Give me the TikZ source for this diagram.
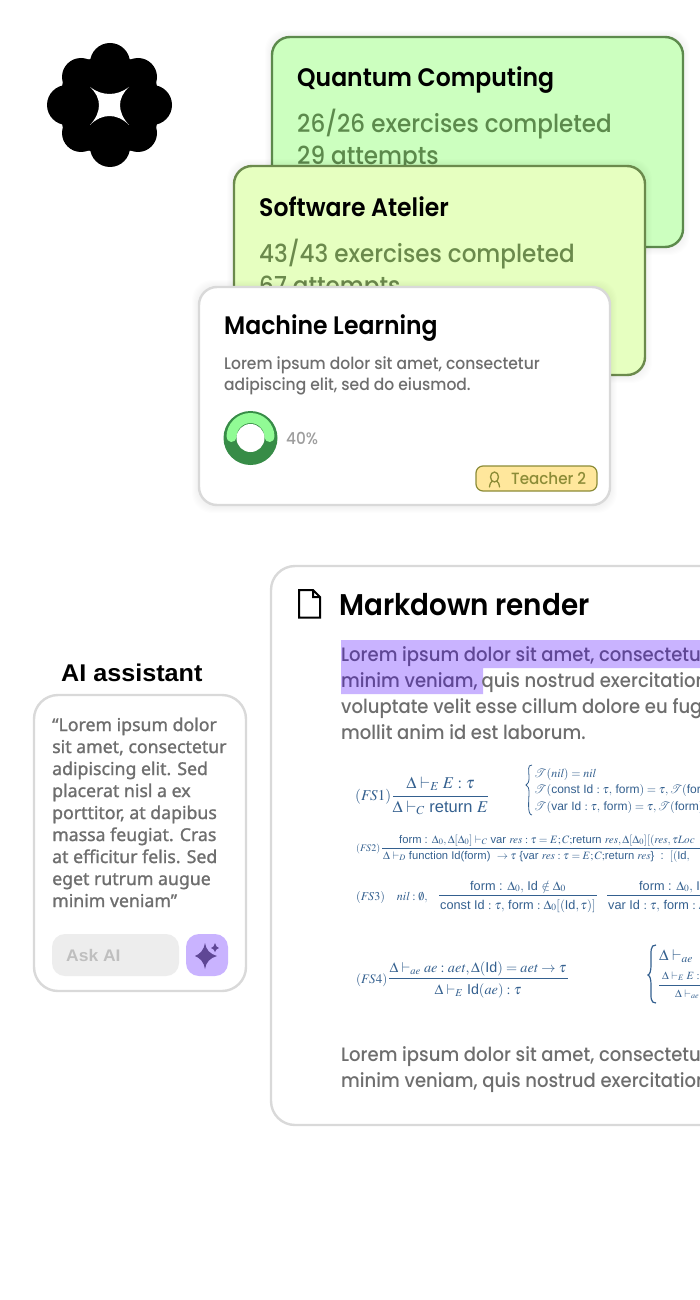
\documentclass[tikz,border=0pt]{standalone}
\usepackage{amsmath}
\usepackage{mathptmx}
\usepackage{fontspec}
\setmainfont{Poppins}
\newfontfamily\psem[FakeStretch=0.93]{Poppins SemiBold}
\newfontfamily\pmed[FakeStretch=0.93]{Poppins Medium}
\newfontfamily\insans[FakeBold=1.2]{Noto Sans}
\newfontfamily\insem[FakeStretch=1.04]{Liberation Sans}
\setsansfont{Liberation Sans}
\definecolor{greenA}{HTML}{CCFFBF}
\definecolor{greenAline}{HTML}{5C8A4C}
\definecolor{greenB}{HTML}{E6FFC0}
\definecolor{greenBline}{HTML}{6B8A4C}
\definecolor{cardline}{HTML}{D9D9D9}
\definecolor{bodygrey}{HTML}{6E6E6E}
\definecolor{purp}{HTML}{C9B3FF}
\definecolor{purpdark}{HTML}{5F4795}
\definecolor{formula}{HTML}{34608F}
\definecolor{ringdark}{HTML}{378C47}
\definecolor{ringlight}{HTML}{91FB95}
\definecolor{tagfill}{HTML}{FFE79C}
\definecolor{tagline}{HTML}{8C8C37}
\newcommand{\softhalo}[4]{%
 \foreach \e in {1,2,...,7}{\fill[black,opacity=.007,rounded corners=20pt] ({#1-\e},{#2-\e}) rectangle ({#3+\e},{#4+\e+1});}}
\tikzset{
 card/.style={draw=#1,line width=2.4pt,rounded corners=18pt,outer sep=0pt,inner sep=0pt,anchor=north west},
 title/.style={anchor=base west,inner sep=0pt,font=\psem\fontsize{25.3}{25.3}\selectfont,text=black},
 stat/.style={anchor=base west,inner sep=0pt,font=\pmed\fontsize{24.8}{24.8}\selectfont},
 body/.style={anchor=base west,inner sep=0pt,font=\pmed\fontsize{19.4}{19.4}\selectfont,text=bodygrey},
 small/.style={anchor=base west,inner sep=0pt,font=\pmed\fontsize{16.7}{16.7}\selectfont,text=bodygrey},
 aibody/.style={anchor=base west,inner sep=0pt,font=\insans\fontsize{17.7}{17.7}\selectfont,text=bodygrey},
 fm/.style={anchor=base west,inner sep=0pt,text=formula,font=\sffamily\fontsize{#1}{#1}\selectfont},
 fmc/.style={anchor=base,inner sep=0pt,text=formula,font=\sffamily\fontsize{#1}{#1}\selectfont},
}
\begin{document}
\begin{tikzpicture}[x=1pt,y=-1pt]
\useasboundingbox (0,0) rectangle (700,1300);
\clip (0,0) rectangle (700,1300);
% logo
\foreach \x/\y/\r in {110/63/20,110/147/20,67/105/20,152/105/20,81/77/19,138/77/19,81/133/19,138/133/19,92/78/19,127/78/19,92/132/19,127/132/19,81/88/19,138/88/19,81/122/19,138/122/19}{\fill[black] (\x,\y) circle (\r);}
\fill[black] (72,72) rectangle (147,138);
\fill[white] (90,87) .. controls (102,96.3) and (117,96.3) .. (129,87) .. controls (117,98) and (117,112) .. (129,125) .. controls (117,113) and (102,113) .. (90,125) .. controls (102,112) and (102,98) .. (90,87) -- cycle;
% Quantum card
\softhalo{272}{37}{683}{247}
\node[card=greenAline,fill=greenA,minimum width=411pt,minimum height=210pt] (cardA) at (272,37) {};
\node[title] (ta) at (297,87) {Quantum Computing};
\node[stat,text=greenAline] (sa1) at (297,133) {26/26 exercises completed};
\node[stat,text=greenAline] (sa2) at (297,165) {29 attempts};
% Software card
\softhalo{234}{166}{645}{375}
\node[card=greenBline,fill=greenB,minimum width=411pt,minimum height=209pt] (cardB) at (234,166) {};
\node[title] (tb) at (259,216) {Software Atelier};
\node[stat,text=greenBline] (sb1) at (259,262) {43/43 exercises completed};
\node[stat,text=greenBline] (sb2) at (259,294) {67 attempts};
% ML card
\softhalo{199}{287}{610}{505}
\node[card=cardline,fill=white,minimum width=411pt,minimum height=218pt] (cardC) at (199,287) {};
\node[title] (tc) at (224,334) {Machine Learning};
\node[small] (bc1) at (224,369) {Lorem ipsum dolor sit amet, consectetur};
\node[small] (bc2) at (224,390) {adipiscing elit, sed do eiusmod.};
\fill[ringdark] (250.5,438) circle (27);
\draw[ringlight,line width=10pt,line cap=round] (231.5,437) arc (180:360:19);
\fill[white] (250.5,438) circle (14);
\node[anchor=base west,inner sep=0pt,font=\pmed\fontsize{16.5}{16.5}\selectfont,text=black!38] (pct) at (286,444) {40\%};
\node[draw=tagline,fill=tagfill,line width=1.2pt,rounded corners=7pt,minimum width=121pt,minimum height=25pt,anchor=north west,inner sep=0pt,outer sep=0pt] (tag) at (476,466) {};
\draw[tagline,line width=1.3pt,line cap=round] (494.5,477) ellipse (4 and 5) (489.5,487) .. controls (490,483) and (491,482) .. (492,481.5) (499.5,487) .. controls (499,483) and (498,482) .. (497,481.5);
\node[anchor=base west,inner sep=0pt,font=\pmed\fontsize{16.3}{16.3}\selectfont,text=tagline] (tagt) at (511,484) {Teacher 2};
% AI assistant
\node[anchor=base west,inner sep=0pt,font=\insem\bfseries\fontsize{24.2}{24.2}\selectfont] (ait) at (61,681) {AI assistant};
\node[card=cardline,fill=white,minimum width=212pt,minimum height=296pt,rounded corners=24pt] (aicard) at (34,695) {};
\node[aibody] (l1) at (52,731) {“Lorem ipsum dolor};
\node[aibody] (l2) at (52,753) {sit amet, consectetur};
\node[aibody] (l3) at (52,775) {adipiscing elit. Sed};
\node[aibody] (l4) at (52,797) {placerat nisl a ex};
\node[aibody] (l5) at (52,819) {porttitor, at dapibus};
\node[aibody] (l6) at (52,841) {massa feugiat. Cras};
\node[aibody] (l7) at (52,863) {at efficitur felis. Sed};
\node[aibody] (l8) at (52,885) {eget rutrum augue};
\node[aibody] (l9) at (52,907) {minim veniam”};
\node[fill=black!7,rounded corners=13pt,minimum width=127pt,minimum height=42pt,anchor=north west,inner sep=0pt,outer sep=0pt] (ask) at (52,934) {};
\node[anchor=base west,inner sep=0pt,font=\insem\bfseries\fontsize{16.8}{16.8}\selectfont,text=black!25] (askt) at (66,961) {Ask AI};
\node[fill=purp,rounded corners=13pt,minimum width=42pt,minimum height=42pt,anchor=north west,inner sep=0pt,outer sep=0pt] (aibtn) at (186,934) {};
\fill[purpdark] (205,943) .. controls (206,950) and (210,954) .. (217,956) .. controls (210,958) and (206,962) .. (205,969) .. controls (204,962) and (200,958) .. (195,956) .. controls (200,954) and (204,950) .. (205,943) -- cycle;
\fill[purpdark] (215,943) .. controls (215.5,946) and (217,947.5) .. (219,948) .. controls (217,948.5) and (215.5,950) .. (215,952) .. controls (214.5,950) and (213,948.5) .. (211,948) .. controls (213,947.5) and (214.5,946) .. (215,943) -- cycle;
% Markdown card
\node[card=cardline,fill=white,minimum width=460pt,minimum height=559pt,rounded corners=24pt] (mdcard) at (271,566) {};
\draw[black,line width=2pt,line join=miter] (299,590) -- (313,590) -- (320,597) -- (320,617.5) -- (299,617.5) -- cycle (313,590) -- (313,597) -- (320,597);
\node[anchor=base west,inner sep=0pt,font=\psem\fontsize{29.9}{29.9}\selectfont] (mdt) at (339,615) {Markdown render};
\fill[purp] (341,640) rectangle (700,668) (341,666) rectangle (483,694);
\node[body,text=purpdark] (m1) at (341,661) {Lorem ipsum dolor sit amet, consectetu};
\node[body,text=purpdark] (m2a) at (341,687) {minim veniam,};
\node[body] (m2b) at (481.5,687) {quis nostrud exercitation};
\node[body] (m3) at (341,713) {voluptate velit esse cillum dolore eu fug};
\node[body] (m4) at (341,739) {mollit anim id est laborum.};
% formulas
\node[fm=15] (fs1) at (355,800) {$(\mathit{FS}1)$};
\draw[formula,line width=.8pt] (393,796) -- (488,796);
\node[fmc=16.5] (fs1a) at (440.5,788) {$\Delta\vdash_{E} E:\tau$};
\node[fmc=16.5] (fs1b) at (440.5,812) {$\Delta\vdash_{C}$ return $E$};
\draw[formula,line width=.8pt] (532,765) .. controls (527,765) and (529,770) .. (529,778) .. controls (529,782) and (528,784) .. (526,785) .. controls (528,786) and (529,788) .. (529,792) .. controls (529,800) and (527,815) .. (532,815);
\node[fm=12] (t1) at (534,777) {$\mathcal{T}(\mathit{nil})=\mathit{nil}$};
\node[fm=12] (t2) at (534,793) {$\mathcal{T}($const Id $:\tau,$ form$)=\tau,\mathcal{T}($for};
\node[fm=12] (t3) at (534,810) {$\mathcal{T}($var Id $:\tau,$ form$)=\tau,\mathcal{T}($form$)$};
\node[fm=10] (fs2) at (356,851) {$(\mathit{FS}2)$};
\draw[formula,line width=.7pt] (382,848) -- (700,848);
\node[fm=11.2] (fs2a) at (399,843) {form : $\Delta_0,\Delta[\Delta_0]\vdash_{C}$ var $\mathit{res}:\tau=E;C;$return $\mathit{res},\Delta[\Delta_0][(\mathit{res},\tau\mathit{Loc}$};
\node[fm=11.2] (fs2b) at (383,859) {$\Delta\vdash_{D}$ function Id(form) $\ \to\tau$ \{var $\mathit{res}:\tau=E;C;$return $\mathit{res}$\} \ :\ \ $[($Id$,$};
\node[fm=12] (fs3) at (356,900) {$(\mathit{FS}3)\quad \mathit{nil}:\emptyset,$};
\draw[formula,line width=.8pt] (439,895.7) -- (597,895.7) (607,895.7) -- (700,895.7);
\node[fm=12.7] (fs3a) at (470,890) {form : $\Delta_0,$ Id $\notin\Delta_0$};
\node[fm=12.7] (fs3b) at (440,909) {const Id $:\tau,$ form $:\Delta_0[($Id$,\tau)]$};
\node[fm=12.7] (fs3c) at (639,890) {form : $\Delta_0,$ Id};
\node[fm=12.7] (fs3d) at (608,909) {var Id $:\tau,$ form $:\Delta_0$};
\node[fm=13] (fs4) at (356,983) {$(\mathit{FS}4)$};
\draw[formula,line width=.8pt] (389,978.7) -- (568,978.7);
\node[fmc=14.3] (fs4a) at (478,972.7) {$\Delta\vdash_{\mathit{ae}} \mathit{ae}:\mathit{aet},\Delta($Id$)=\mathit{aet}\to\tau$};
\node[fmc=14.3] (fs4b) at (478,994) {$\Delta\vdash_{E}$ Id$(\mathit{ae}):\tau$};
\draw[formula,line width=1.2pt] (656,945) .. controls (650,945) and (651,950) .. (651,965) .. controls (651,971) and (650,974) .. (648,975) .. controls (650,976) and (651,979) .. (651,985) .. controls (651,998) and (650,1003) .. (656,1003);
\node[fm=15.5] (g1) at (659,960) {$\Delta\vdash_{\mathit{ae}}$};
\draw[formula,line width=.6pt] (659,985) -- (700,985);
\node[fm=11] (g2) at (662,979) {$\Delta\vdash_{E} E:$};
\node[fm=11] (g3) at (675,997) {$\Delta\vdash_{\mathit{ae}}$};
\node[body] (m5) at (341,1061) {Lorem ipsum dolor sit amet, consectetu};
\node[body] (m6) at (341,1087) {minim veniam, quis nostrud exercitation};
\end{tikzpicture}
\end{document}
